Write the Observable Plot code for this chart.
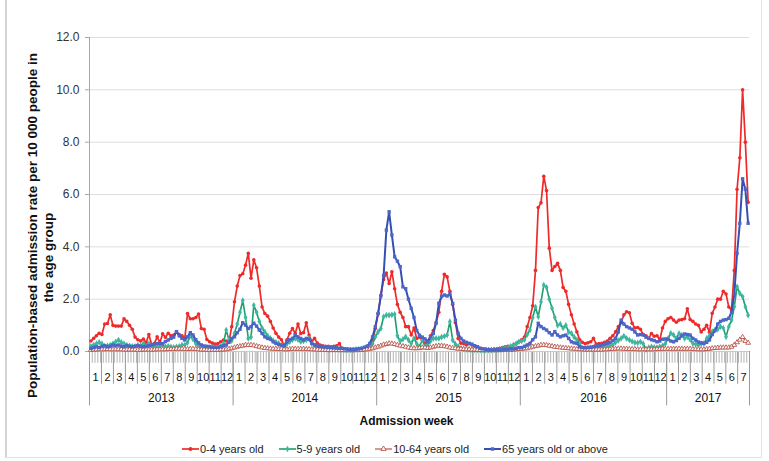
<!DOCTYPE html>
<html>
<head>
<meta charset="utf-8">
<script src="https://cdn.jsdelivr.net/npm/d3@7"></script>
<script src="https://cdn.jsdelivr.net/npm/@observablehq/plot@0.6"></script>
<style>
  body { margin: 0; background: #fff; font-family: "Liberation Sans", Arial, sans-serif; }
  #wrap { position: relative; width: 769px; height: 461px; overflow: hidden; background: #fff; }
  #border { position: absolute; left: 5px; top: -2px; width: 757px; height: 460px; border-left: 2px solid #d4d4d4; border-right: 1px solid #e4e4e4; border-bottom: 1px solid #e4e4e4; box-sizing: border-box; }
  #chart { position: absolute; left: 0; top: 0; }
  #legend { position: absolute; left: 182px; top: 442px; display: flex; gap: 15px; font-size: 11px; color: #222; line-height: 14px; }
  #legend .item { display: flex; align-items: center; }
  #legend svg { margin-right: 1px; }
</style>
</head>
<body>
<div id="wrap">
  <div id="border"></div>
  <div id="chart"></div>
  <div id="legend"></div>
</div>
<script>
// ---------------- data ----------------
const ageGroups = ["0-4 years old", "5-9 years old", "10-64 years old", "65 years old or above"];
const seriesColors = ["#ee2a2a", "#1c9f6c", "#b0473b", "#3450b2"];
const years = ["2013", "2014", "2015", "2016", "2017"];
const yearWeeks = [52, 52, 52, 53, 30];
const yearMonths = [12, 12, 12, 12, 7];
const yTicks = [0, 2, 4, 6, 8, 10, 12];
const yTitle1 = "Population-based admission rate per 10 000 people in";
const yTitle2 = "the age group";
const xTitle = "Admission week";

// weekly admission rates (per 10 000), 2013 wk1 .. 2017 wk30
const rate0to4 = [
  0.4,0.5,0.6,0.7,0.65,1.05,1.07,1.4,1.0,0.97,
  0.97,0.97,1.25,1.15,1.0,0.85,0.55,0.45,0.4,0.48,
  0.34,0.65,0.27,0.31,0.56,0.35,0.68,0.54,0.7,0.6,
  0.63,0.75,0.65,0.6,0.5,1.45,1.25,1.25,1.3,1.43,
  0.88,0.85,0.46,0.37,0.32,0.28,0.3,0.37,0.44,0.4,
  0.37,0.95,
  1.9,2.5,2.9,2.97,3.3,3.75,2.8,3.5,3.2,2.5,
  1.7,1.45,1.35,1.15,0.9,0.7,0.55,0.45,0.22,0.45,
  0.7,0.88,0.69,1.05,0.69,0.72,1.1,0.63,0.4,0.5,
  0.32,0.25,0.22,0.2,0.2,0.18,0.2,0.22,0.3,0.1,
  0.05,0.05,0.05,0.05,0.08,0.1,0.1,0.1,0.12,0.2,
  0.4,0.88,
  1.45,2.15,2.75,3.0,2.6,3.05,2.4,1.8,1.5,1.3,
  0.95,0.95,0.63,0.9,0.5,0.55,0.44,0.32,0.4,0.6,
  0.8,1.1,1.5,2.3,2.95,2.85,2.3,1.8,1.1,0.5,
  0.32,0.3,0.25,0.3,0.25,0.2,0.18,0.12,0.08,0.08,
  0.06,0.06,0.08,0.1,0.12,0.15,0.18,0.2,0.2,0.25,
  0.3,0.37,
  0.45,0.55,0.95,1.3,1.75,3.1,5.5,5.68,6.7,6.15,
  3.95,3.1,3.25,3.37,3.1,2.45,2.3,1.8,1.4,1.05,
  0.75,0.45,0.35,0.3,0.33,0.37,0.5,0.28,0.3,0.31,
  0.35,0.4,0.5,0.6,0.75,0.95,1.1,1.4,1.52,1.48,
  1.08,0.9,0.92,0.85,0.65,0.6,0.5,0.69,0.58,0.6,
  0.45,0.9,1.15,
  1.25,1.3,1.2,1.12,1.2,1.22,1.25,1.63,1.22,1.15,
  1.05,1.0,0.75,0.85,1.0,0.74,1.46,1.7,2.0,2.0,
  2.3,2.2,1.7,1.6,3.1,6.2,7.4,10.0,8.0,5.7
];
const rate5to9 = [
  0.2,0.25,0.3,0.35,0.3,0.21,0.22,0.25,0.3,0.37,
  0.44,0.35,0.3,0.25,0.22,0.2,0.2,0.25,0.22,0.3,
  0.2,0.3,0.2,0.18,0.16,0.2,0.22,0.18,0.2,0.18,
  0.16,0.18,0.2,0.25,0.25,0.34,0.6,0.47,0.3,0.2,
  0.12,0.12,0.14,0.16,0.16,0.14,0.15,0.2,0.3,0.82,
  0.44,0.41,
  0.7,1.05,1.5,1.95,1.3,0.5,0.55,1.77,1.5,1.15,
  0.9,0.75,0.6,0.5,0.42,0.35,0.31,0.25,0.21,0.3,
  0.37,0.45,0.5,0.45,0.37,0.4,0.44,0.5,0.31,0.22,
  0.18,0.15,0.14,0.13,0.12,0.1,0.1,0.1,0.08,0.08,
  0.06,0.06,0.06,0.06,0.08,0.08,0.1,0.12,0.18,0.25,
  0.3,0.56,
  0.75,0.88,1.33,1.39,1.39,1.4,1.42,0.6,0.4,0.47,
  0.56,0.44,0.31,0.5,0.3,0.18,0.44,0.2,0.25,0.4,
  0.5,0.5,0.5,0.55,0.58,0.63,1.14,0.44,0.28,0.2,
  0.12,0.1,0.08,0.08,0.07,0.06,0.06,0.05,0.05,0.05,
  0.05,0.05,0.06,0.06,0.08,0.1,0.12,0.15,0.2,0.25,
  0.3,0.37,
  0.4,0.45,0.65,0.82,1.3,1.7,1.33,1.9,2.54,2.45,
  2.0,1.65,1.3,1.0,1.05,0.9,1.0,0.75,0.7,0.55,
  0.45,0.3,0.12,0.12,0.14,0.15,0.15,0.16,0.16,0.17,
  0.18,0.18,0.22,0.25,0.35,0.42,0.5,0.59,0.5,0.44,
  0.38,0.34,0.33,0.37,0.3,0.08,0.15,0.18,0.16,0.15,
  0.18,0.22,0.3,
  0.5,0.7,0.63,0.5,0.69,0.63,0.5,0.56,0.45,0.31,
  0.28,0.25,0.3,0.31,0.5,0.6,0.76,0.82,0.85,0.95,
  0.9,0.56,0.95,1.2,1.71,2.47,2.22,2.09,1.71,1.39
];
const rate10to64 = [
  0.06,0.07,0.07,0.08,0.08,0.08,0.09,0.08,0.08,0.08,
  0.08,0.08,0.07,0.07,0.07,0.07,0.07,0.06,0.06,0.07,
  0.07,0.07,0.07,0.07,0.08,0.08,0.08,0.08,0.09,0.09,
  0.09,0.1,0.1,0.1,0.09,0.09,0.1,0.1,0.09,0.08,
  0.07,0.07,0.06,0.06,0.06,0.06,0.06,0.07,0.07,0.08,
  0.1,0.12,
  0.15,0.18,0.2,0.22,0.25,0.24,0.25,0.23,0.2,0.18,
  0.15,0.13,0.12,0.11,0.1,0.1,0.09,0.09,0.08,0.08,
  0.09,0.1,0.1,0.1,0.1,0.1,0.09,0.09,0.08,0.08,
  0.07,0.06,0.06,0.06,0.05,0.05,0.05,0.05,0.05,0.05,
  0.05,0.05,0.05,0.05,0.05,0.06,0.06,0.07,0.08,0.1,
  0.12,0.15,
  0.18,0.22,0.26,0.28,0.31,0.3,0.28,0.25,0.22,0.2,
  0.18,0.15,0.13,0.12,0.12,0.13,0.15,0.15,0.13,0.15,
  0.18,0.2,0.22,0.22,0.2,0.18,0.15,0.13,0.12,0.1,
  0.1,0.09,0.08,0.08,0.07,0.07,0.06,0.06,0.05,0.05,
  0.05,0.05,0.05,0.05,0.05,0.05,0.06,0.06,0.06,0.07,
  0.08,0.09,
  0.1,0.11,0.12,0.15,0.18,0.2,0.22,0.25,0.25,0.24,
  0.22,0.2,0.18,0.17,0.15,0.14,0.13,0.12,0.11,0.1,
  0.09,0.08,0.08,0.07,0.07,0.07,0.07,0.07,0.07,0.07,
  0.08,0.08,0.09,0.1,0.1,0.11,0.11,0.1,0.1,0.09,
  0.09,0.09,0.08,0.08,0.08,0.08,0.08,0.08,0.08,0.09,
  0.09,0.1,0.1,
  0.1,0.1,0.1,0.1,0.1,0.1,0.1,0.1,0.1,0.09,
  0.09,0.08,0.08,0.08,0.09,0.1,0.12,0.13,0.14,0.15,
  0.15,0.15,0.15,0.18,0.25,0.35,0.45,0.55,0.4,0.33
];
const rate65plus = [
  0.12,0.15,0.18,0.15,0.2,0.22,0.18,0.2,0.25,0.22,
  0.25,0.2,0.18,0.22,0.2,0.18,0.2,0.22,0.2,0.18,
  0.2,0.22,0.25,0.28,0.3,0.3,0.3,0.38,0.44,0.5,
  0.55,0.76,0.6,0.5,0.44,0.56,0.72,0.63,0.45,0.33,
  0.25,0.21,0.2,0.18,0.16,0.16,0.16,0.18,0.22,0.25,
  0.35,0.5,
  0.56,0.72,0.85,1.1,1.01,0.88,0.95,1.08,0.97,0.82,
  0.69,0.56,0.5,0.47,0.37,0.31,0.27,0.24,0.21,0.37,
  0.45,0.5,0.63,0.56,0.5,0.44,0.5,0.47,0.31,0.25,
  0.21,0.2,0.18,0.17,0.16,0.15,0.14,0.13,0.12,0.12,
  0.1,0.09,0.08,0.08,0.08,0.1,0.12,0.16,0.2,0.31,
  0.56,0.95,
  1.45,2.12,2.9,4.64,5.34,4.45,3.62,3.45,3.24,2.47,
  2.4,2.0,1.65,1.3,0.8,0.62,0.55,0.48,0.37,0.56,
  0.69,1.08,1.84,2.1,2.16,2.12,2.2,1.84,1.2,0.69,
  0.5,0.4,0.35,0.31,0.28,0.22,0.18,0.12,0.1,0.08,
  0.07,0.06,0.06,0.07,0.06,0.07,0.08,0.08,0.1,0.1,
  0.12,0.15,
  0.15,0.2,0.25,0.31,0.45,0.56,1.08,0.95,0.88,0.82,
  0.72,0.63,0.76,0.63,0.56,0.6,0.63,0.5,0.37,0.33,
  0.31,0.18,0.15,0.14,0.15,0.16,0.18,0.2,0.22,0.25,
  0.28,0.31,0.35,0.42,0.5,0.75,1.2,1.05,0.95,0.9,
  0.85,0.75,0.63,0.65,0.63,0.55,0.5,0.45,0.42,0.37,
  0.4,0.47,0.48,
  0.47,0.4,0.37,0.42,0.5,0.6,0.67,0.65,0.63,0.5,
  0.44,0.36,0.33,0.31,0.35,0.44,0.65,0.8,1.05,1.15,
  1.2,1.22,1.27,1.5,2.2,3.75,4.9,6.6,6.2,4.9
];

// ---------------- derived tables ----------------
const seriesValues = [rate0to4, rate5to9, rate10to64, rate65plus];
const rows = seriesValues.map((vals, s) => vals.map((v, i) => ({week: i, rate: v, group: ageGroups[s]})));
const totalWeeks = d3.sum(yearWeeks);

const yearStarts = yearWeeks.map((w, k) => d3.sum(yearWeeks.slice(0, k)));
const yearInfo = years.map((y, k) => ({
  label: y,
  start: yearStarts[k] - 0.5,
  end: yearStarts[k] + yearWeeks[k] - 0.5
}));
const monthInfo = [];
years.forEach((y, k) => {
  const mw = k === years.length - 1 ? yearWeeks[k] / yearMonths[k] : yearWeeks[k] / 12;
  for (let m = 0; m < yearMonths[k]; m++) {
    const a = yearStarts[k] - 0.5 + m * mw;
    monthInfo.push({label: String(m + 1), start: a, mid: a + mw / 2});
  }
});
const monthSeps = monthInfo.map(d => d.start).concat([totalWeeks - 0.5]);
const yearSeps = yearInfo.map(d => d.start).concat([totalWeeks - 0.5]);
const weekSeps = d3.range(totalWeeks + 1).map(i => i - 0.5);

// ---------------- chart ----------------
const lineStyle = [
  {w: 1.7, sym: "circle", fill: "#ee2a2a", stroke: "none", r: 1.8},
  {w: 1.6, sym: "diamond", fill: "#3fb7a0", stroke: "none", r: 2},
  {w: 1.1, sym: "triangle", fill: "white", stroke: "#b0473b", r: 1.8},
  {w: 2.0, sym: "square", fill: "#4d66c8", stroke: "none", r: 1.9}
];

const titleFont = {fontSize: 13.5, fontWeight: "bold", fill: "#111", textAnchor: "middle", rotate: -90, frameAnchor: "left"};
const marks = [
  Plot.gridY(yTicks, {stroke: "#dedede", strokeOpacity: 1}),
  Plot.ruleX(weekSeps, {y1: 0, y2: -0.45, stroke: "#b4b4b4", strokeWidth: 1}),
  Plot.ruleX(monthSeps, {y1: 0, y2: -1.25, stroke: "#9a9a9a", strokeWidth: 1}),
  Plot.ruleX(yearSeps, {y1: 0, y2: -2.08, stroke: "#9a9a9a", strokeWidth: 1}),
  Plot.ruleY([0], {stroke: "#c8c8c8"}),
  Plot.ruleX([-0.5], {y1: 0, y2: 12, stroke: "#a8a8a8"}),
  Plot.axisY(yTicks, {label: null, tickFormat: d => d.toFixed(1), tickSize: 4, tickPadding: 6, stroke: "#a8a8a8", fill: "#333", fontSize: 12}),
  Plot.text(monthInfo, {x: "mid", y: -0.98, text: "label", fontSize: 11, fill: "#111"}),
  Plot.text(yearInfo, {x: d => (d.start + d.end) / 2, y: -1.8, text: "label", fontSize: 12, fill: "#111"}),
  Plot.text([xTitle], {frameAnchor: "bottom", dx: -13, dy: 73, fontSize: 12, fontWeight: "bold", fill: "#111"}),
  Plot.text([yTitle1], {...titleFont, dx: -57, dy: 31}),
  Plot.text([yTitle2], {...titleFont, dx: -41, dy: 63})
];
rows.forEach((data, s) => {
  const st = lineStyle[s];
  marks.push(Plot.line(data, {x: "week", y: "rate", stroke: seriesColors[s], strokeWidth: st.w}));
  marks.push(Plot.dot(data, {x: "week", y: "rate", symbol: () => st.sym, r: st.r, fill: st.fill, stroke: st.stroke, strokeWidth: 0.8}));
});

const chart = Plot.plot({
  width: 769,
  height: 437,
  marginLeft: 89,
  marginRight: 20,
  marginTop: 37,
  marginBottom: 86,
  style: {fontFamily: "'Liberation Sans', Arial, sans-serif", background: "transparent", overflow: "visible"},
  x: {domain: [-0.5, totalWeeks - 0.5], axis: null},
  y: {domain: [0, 12], axis: null},
  symbol: {type: "identity"},
  marks
});
document.getElementById("chart").appendChild(chart);

// ---------------- legend ----------------
const legend = document.getElementById("legend");
ageGroups.forEach((g, s) => {
  const st = lineStyle[s];
  const item = document.createElement("div");
  item.className = "item";
  const svg = d3.create("svg").attr("width", 17).attr("height", 10);
  svg.append("line").attr("x1", 0).attr("x2", 17).attr("y1", 5).attr("y2", 5).attr("stroke", seriesColors[s]).attr("stroke-width", st.w);
  svg.append("path").attr("transform", "translate(8.5,5)")
    .attr("d", d3.symbol(s === 0 ? d3.symbolCircle : s === 1 ? d3.symbolDiamond : s === 2 ? d3.symbolTriangle : d3.symbolSquare, 12)())
    .attr("fill", st.fill).attr("stroke", st.stroke).attr("stroke-width", 0.8);
  item.appendChild(svg.node());
  const t = document.createElement("span");
  t.textContent = g;
  item.appendChild(t);
  legend.appendChild(item);
});
</script>
</body>
</html>
